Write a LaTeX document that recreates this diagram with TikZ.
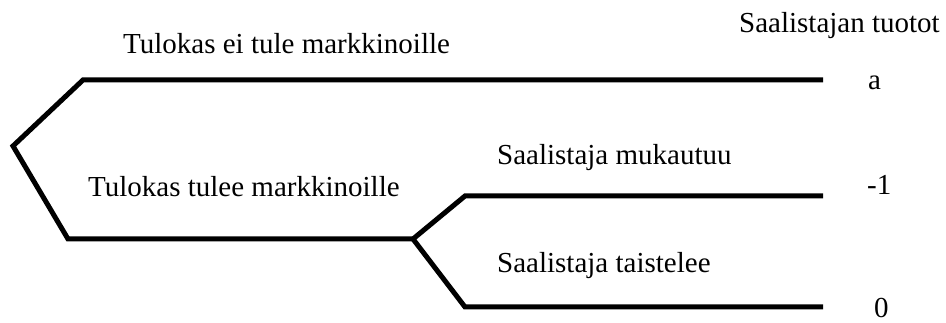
\documentclass[tikz,border=0pt]{standalone}
\usepackage{fontspec}
\setmainfont{Liberation Serif}
\begin{document}
\begin{tikzpicture}[x=1pt,y=-1pt,
  branch/.style={line width=5pt, line join=miter, line cap=butt},
  lbl/.style={anchor=base west, inner sep=0pt, font=\fontsize{29}{32}\selectfont}]
\useasboundingbox (0,0) rectangle (946,323);
% coordinates of the tree
\coordinate (root) at (13,146);
\coordinate (ucorner) at (83,80);
\coordinate (uend) at (823,80);
\coordinate (lcorner) at (68,239);
\coordinate (split) at (413,239);
\coordinate (mcorner) at (465,196);
\coordinate (mend) at (823,196);
\coordinate (bcorner) at (465,307);
\coordinate (bend) at (823,307);
% branches
\draw[branch] (uend) -- (ucorner) -- (root) -- (lcorner) -- (split);
\draw[branch] (mend) -- (mcorner) -- (split) -- (bcorner) -- (bend);
% labels
\node[lbl] (head) at (739,33) {Saalistajan tuotot};
\node[lbl] (eitule) at (123,54) {Tulokas ei tule markkinoille};
\node[lbl] (tulee) at (88,197) {Tulokas tulee markkinoille};
\node[lbl] (mukautuu) at (497,165) {Saalistaja mukautuu};
\node[lbl] (taistelee) at (497,273) {Saalistaja taistelee};
\node[lbl] (pa) at (868,90) {a};
\node[lbl] (pm) at (867,195) {-1};
\node[lbl] (pz) at (874,318) {0};
\end{tikzpicture}
\end{document}
